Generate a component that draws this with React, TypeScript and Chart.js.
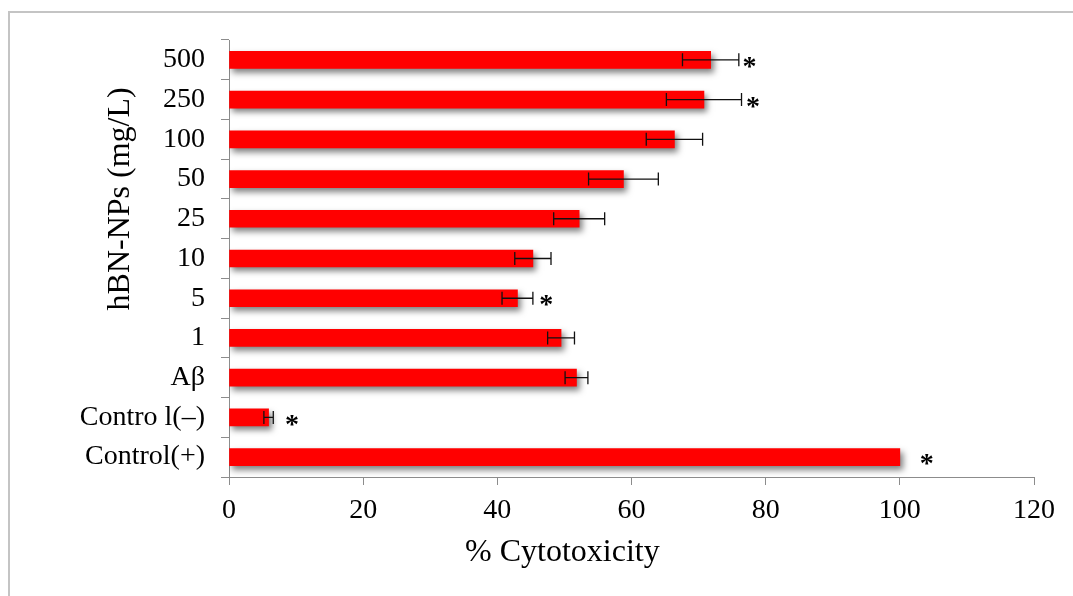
import React, { useEffect, useRef } from 'react';
import { Chart, registerables } from 'chart.js';

Chart.register(...registerables);

const categories = ['500', '250', '100', '50', '25', '10', '5', '1', 'Aβ', 'Contro l(–)', 'Control(+)'];
const cytotoxicity = [71.8, 70.8, 66.4, 58.8, 52.2, 45.3, 43.0, 49.5, 51.8, 5.9, 100];
const errorValues = [4.2, 5.6, 4.2, 5.2, 3.8, 2.7, 2.3, 2.0, 1.7, 0.7, 0];
const asteriskAt: (number | null)[] = [77.6, 78.1, null, null, null, null, 47.3, null, null, 9.4, 104.0];
const xMin = 0;
const xMax = 120;
const xStep = 20;
const xTitle = '% Cytotoxicity';
const yTitle = 'hBN-NPs (mg/L)';
const hbnFirst = 0;
const hbnLast = 7;

const FONT = '"Liberation Serif", "Times New Roman", serif';

const decor = {
  id: 'decor',
  beforeDraw(chart: any) {
    const ctx = chart.ctx;
    ctx.save();
    ctx.fillStyle = '#ffffff';
    ctx.fillRect(0, 0, chart.width, chart.height);
    ctx.strokeStyle = '#c4c4c4';
    ctx.lineWidth = 2;
    ctx.beginPath();
    ctx.moveTo(9, chart.height + 5);
    ctx.lineTo(9, 12);
    ctx.lineTo(chart.width + 5, 12);
    ctx.stroke();
    ctx.restore();
  },
  beforeDatasetDraw(chart: any) {
    const ctx = chart.ctx;
    ctx.save();
    ctx.shadowColor = 'rgba(0,0,0,0.5)';
    ctx.shadowBlur = 6;
    ctx.shadowOffsetX = 3;
    ctx.shadowOffsetY = 4;
  },
  afterDatasetDraw(chart: any) {
    chart.ctx.restore();
  },
  afterDatasetsDraw(chart: any) {
    const ctx = chart.ctx;
    const xs = chart.scales.x;
    const ys = chart.scales.y;
    ctx.save();
    ctx.strokeStyle = '#111';
    ctx.lineWidth = 1.3;
    const cap = 6.5;
    cytotoxicity.forEach((v, i) => {
      const e = errorValues[i];
      const y = ys.getPixelForValue(i);
      if (e > 0) {
        const x1 = xs.getPixelForValue(v - e);
        const x2 = xs.getPixelForValue(v + e);
        ctx.beginPath();
        ctx.moveTo(x1, y);
        ctx.lineTo(x2, y);
        ctx.moveTo(x1, y - cap);
        ctx.lineTo(x1, y + cap);
        ctx.moveTo(x2, y - cap);
        ctx.lineTo(x2, y + cap);
        ctx.stroke();
      }
      const a = asteriskAt[i];
      if (a !== null) {
        ctx.fillStyle = '#000';
        ctx.font = `bold 28px ${FONT}`;
        ctx.textAlign = 'center';
        ctx.textBaseline = 'middle';
        ctx.fillText('*', xs.getPixelForValue(a), y + 8);
      }
    });
    ctx.restore();
  },
  afterDraw(chart: any) {
    const ctx = chart.ctx;
    const xs = chart.scales.x;
    const ys = chart.scales.y;
    ctx.save();
    ctx.fillStyle = '#000';
    ctx.font = `32px ${FONT}`;
    ctx.textAlign = 'center';
    ctx.textBaseline = 'middle';
    ctx.fillText(xTitle, xs.getPixelForValue((xMin + xMax) / 2 - 10) - 2, 553);
    const cy = (ys.getPixelForValue(hbnFirst) + ys.getPixelForValue(hbnLast)) / 2;
    ctx.translate(121, cy);
    ctx.rotate(-Math.PI / 2);
    ctx.fillText(yTitle, 0, 0);
    ctx.restore();
  },
};

export default function App() {
  const ref = useRef<HTMLCanvasElement | null>(null);
  useEffect(() => {
    if (!ref.current) return;
    const chart = new Chart(ref.current, {
      type: 'bar',
      data: {
        labels: categories,
        datasets: [
          {
            data: cytotoxicity,
            backgroundColor: '#ff0000',
            borderWidth: 0,
            barThickness: 17,
          },
        ],
      },
      options: {
        indexAxis: 'y',
        responsive: false,
        animation: false,
        layout: { padding: { left: 0, top: 40, right: 39, bottom: 0 } },
        plugins: { legend: { display: false }, tooltip: { enabled: false } },
        scales: {
          x: {
            min: xMin,
            max: xMax,
            ticks: {
              stepSize: xStep,
              color: '#000',
              font: { family: FONT, size: 28 },
              padding: 9,
              maxRotation: 0,
            },
            grid: {
              drawOnChartArea: false,
              drawTicks: true,
              tickLength: 8,
              color: '#8c8c8c',
            },
            border: { color: '#8c8c8c', width: 1 },
            afterFit(scale: any) {
              scale.height = 119;
            },
          },
          y: {
            ticks: {
              color: '#000',
              font: { family: FONT, size: 28 },
              padding: 16,
            },
            grid: {
              drawOnChartArea: false,
              drawTicks: true,
              tickLength: 8,
              offset: true,
              color: '#8c8c8c',
            },
            border: { color: '#8c8c8c', width: 1 },
            afterFit(scale: any) {
              scale.width = 229;
            },
          },
        },
      },
      plugins: [decor],
    });
    return () => chart.destroy();
  }, []);
  return (
    <div style={{ position: 'fixed', left: 0, top: 0, width: 1073, height: 596, background: '#fff' }}>
      <canvas ref={ref} width={1073} height={596} style={{ display: 'block' }} />
    </div>
  );
}
